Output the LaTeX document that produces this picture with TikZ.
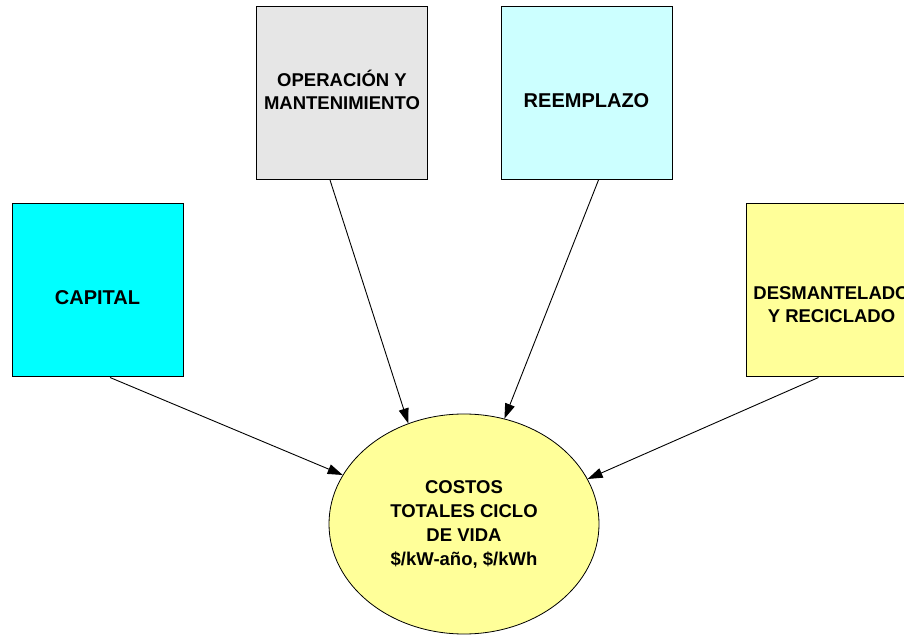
\documentclass[tikz,border=0pt]{standalone}
\usepackage{fontspec}
\setmainfont{Liberation Sans}
\usetikzlibrary{arrows.meta, shapes.geometric}
\definecolor{CapCyan}{HTML}{00FFFF}
\definecolor{OpGray}{HTML}{E6E6E6}
\definecolor{RepCyan}{HTML}{CCFFFF}
\definecolor{EndYellow}{HTML}{FFFF99}

\begin{document}
\begin{tikzpicture}[
  x=1pt, y=1pt,
  box/.style={draw=black, line width=1pt, minimum width=171pt, minimum height=173pt,
              inner sep=0pt},
  onetxt/.style={font=\fontsize{20}{24}\selectfont\bfseries, inner sep=0pt},
  twotxt/.style={font=\fontsize{18.5}{23}\selectfont\bfseries, align=center, inner sep=0pt},
  flow/.style={-{Triangle[length=15pt, width=10pt]}, line width=0.9pt, draw=black}
]
\useasboundingbox (0,0) rectangle (904,634);
\clip (0,0) rectangle (904,634);

\node[box, fill=CapCyan] (cap) at (97.5,343.5) {};
\node[onetxt] (captxt) at ([yshift=-7pt]cap.center) {CAPITAL};

\node[box, fill=OpGray] (opm) at (342,541) {};
\node[twotxt] (opmtxt) at ([yshift=3pt]opm.center) {OPERACIÓN Y\\MANTENIMIENTO};

\node[box, fill=RepCyan] (rep) at (586.5,541) {};
\node[onetxt] (reptxt) at ([yshift=-8pt]rep.center) {REEMPLAZO};

\node[box, fill=EndYellow] (dis) at (831.5,343.5) {};
\node[twotxt] (distxt) at ([yshift=-14pt]dis.center) {DESMANTELADO\\Y RECICLADO};

\node[ellipse, draw=black, line width=0.8pt, fill=EndYellow, minimum width=270pt,
      minimum height=220pt, inner sep=0pt, align=center,
      font=\fontsize{18.5}{24}\selectfont\bfseries] (costs) at (464,110)
  {COSTOS\\TOTALES CICLO\\DE VIDA\\\$/kW-año, \$/kWh};

\draw[flow] ([xshift=12.5pt]cap.south) -- (costs.158);
\draw[flow] ([xshift=-12pt]opm.south) -- (costs.119.5);
\draw[flow] ([xshift=12pt]rep.south) -- (costs.69.6);
\draw[flow] ([xshift=-13pt]dis.south) -- (costs.20);

\end{tikzpicture}
\end{document}
